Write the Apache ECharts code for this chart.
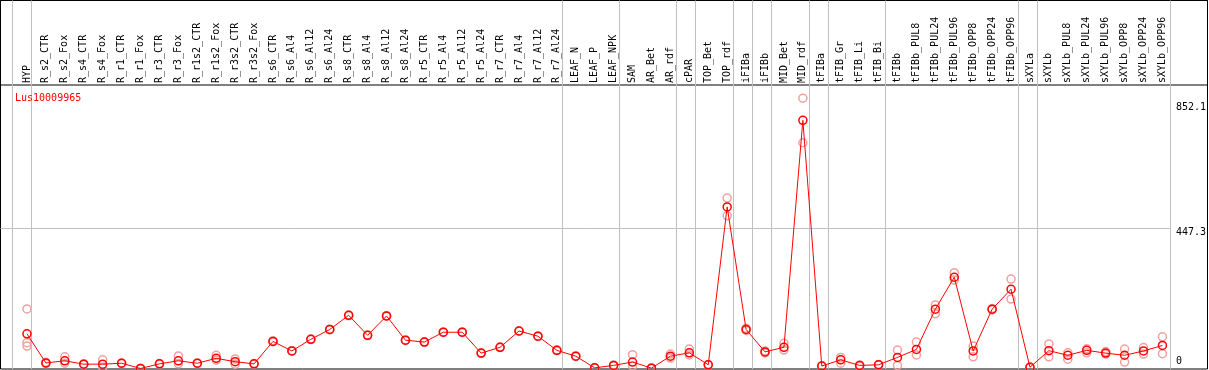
<!DOCTYPE html>
<html>
<head>
<meta charset="utf-8">
<script src="https://cdn.jsdelivr.net/npm/echarts@6/dist/echarts.min.js"></script>
<style>
html,body{margin:0;padding:0;background:#fff;}
#chart{width:1209px;height:370px;}
</style>
</head>
<body>
<div id="chart"></div>
<script>
const geneName = 'Lus10009965';
const categories = ['HYP','R_s2_CTR','R_s2_Fox','R_s4_CTR','R_s4_Fox','R_r1_CTR','R_r1_Fox','R_r3_CTR','R_r3_Fox',
  'R_r1s2_CTR','R_r1s2_Fox','R_r3s2_CTR','R_r3s2_Fox','R_s6_CTR','R_s6_Al4','R_s6_Al12','R_s6_Al24',
  'R_s8_CTR','R_s8_Al4','R_s8_Al12','R_s8_Al24','R_r5_CTR','R_r5_Al4','R_r5_Al12','R_r5_Al24',
  'R_r7_CTR','R_r7_Al4','R_r7_Al12','R_r7_Al24','LEAF_N','LEAF_P','LEAF_NPK','SAM','AR_Bet','AR_rdf',
  'cPAR','TOP_Bet','TOP_rdf','iFIBa','iFIBb','MID_Bet','MID_rdf','tFIBa','tFIB_Gr','tFIB_Li','tFIB_Bi',
  'tFIBb','tFIBb_PUL8','tFIBb_PUL24','tFIBb_PUL96','tFIBb_OPP8','tFIBb_OPP24','tFIBb_OPP96',
  'sXYLa','sXYLb','sXYLb_PUL8','sXYLb_PUL24','sXYLb_PUL96','sXYLb_OPP8','sXYLb_OPP24','sXYLb_OPP96'];
const meanValues = [103,8,15,4,4,7,-10,5,15,7,23,12,5,78,47,85,117,163,98,161,82,76,108,108,40,
  59,112,95,49,30,-8,0,11,-9,30,41,2,516,117,44,59,798,-2,18,0,2,26,52,183,287,47,183,248,
  -6,48,33,49,40,33,47,65];
const rep1 = [184,6,28,3,18,6,-9,4,31,6,33,21,4,77,46,84,116,162,97,160,81,75,107,107,39,
  58,111,94,48,29,-9,-1,35,-10,37,53,1,545,114,41,72,870,-3,26,-1,1,50,76,197,302,63,181,281,
  -7,70,41,54,45,53,58,93];
const rep2 = [74,10,7,5,-6,8,-11,6,5,8,17,4,6,80,48,86,118,164,99,162,83,77,109,109,41,
  60,113,96,50,31,-7,1,-2,-8,24,34,3,487,121,47,50,725,-1,7,1,3,0,34,168,278,28,185,216,
  -5,28,20,41,37,11,37,38];
const rep3 = [63].concat(new Array(60).fill(null));
const yTickValues = [0, 447.3, 852.1];
const yGridValue = 447.3;
// index (1-based) of last category in each sample group
const groupEnds = [0,1,29,32,35,36,38,39,40,42,43,46,53,54,61];

// ---- layout ----
const plotLeft = 17.5, plotRight = 1175.4, plotTop = 85, plotBottom = 369;
const zeroPx = 365.4, pxPerUnit = 0.3071;
const band = (plotRight - plotLeft) / categories.length;
const sepOffset = 4 / band;
const frameL = 0.5, frameT = 0.5, frameR = 1207.5, frameB = 369;
const vx = px => (px - plotLeft) / band + 0.5;
const vy = px => (zeroPx - px) / pxPerUnit;

const font = 'DejaVu Sans Mono';
const chart = echarts.init(document.getElementById('chart'), null, {renderer:'canvas'});

function repSeries(arr){
  return {
    type:'line', xAxisIndex:1, yAxisIndex:1, data: arr, z: 2,
    lineStyle:{width:0, opacity:0}, symbol:'circle', symbolSize:8, showAllSymbol:true,
    itemStyle:{color:'rgba(255,255,255,0)', borderColor:'#f2a0a0', borderWidth:1.5},
    emphasis:{disabled:true}, silent:true, connectNulls:false
  };
}

const option = {
  animation:false,
  title:{text:geneName, left:10, top:88, textStyle:{color:'#ff0000', fontSize:10, fontWeight:'normal', fontFamily:font}},
  grid:[
    {left:frameL, top:frameT, width:frameR-frameL, height:frameB-frameT, show:true, borderColor:'#000', borderWidth:1, backgroundColor:'transparent'},
    {left:plotLeft, top:plotTop, width:plotRight-plotLeft, height:plotBottom-plotTop, show:false},
    {left:frameL, top:frameT, width:frameR-frameL, height:plotTop-frameT, show:true, borderColor:'#000', borderWidth:1, backgroundColor:'transparent'}
  ],
  xAxis:[
    {type:'value', gridIndex:0, min:vx(frameL), max:vx(frameR), show:false},
    {type:'category', gridIndex:1, data:categories, position:'top', boundaryGap:true,
      axisLine:{show:false}, axisTick:{show:false}, splitLine:{show:false},
      axisLabel:{interval:0, rotate:90, margin:2, fontSize:10, fontFamily:font, color:'#000', padding:[0,0,6,0]}},
    {type:'value', gridIndex:2, min:0, max:1, show:false}
  ],
  yAxis:[
    {type:'value', gridIndex:0, min:vy(frameB), max:vy(frameT), show:false},
    {type:'value', gridIndex:1, position:'right', min:vy(plotBottom), max:vy(plotTop),
      axisLine:{show:false}, axisTick:{show:false}, splitLine:{show:false},
      axisLabel:{customValues:yTickValues, margin:4, fontSize:10, fontFamily:font, color:'#000',
        verticalAlign:'middle',
        formatter: v => v === 0 ? '{z|0}' : '{t|' + v + '}',
        rich:{t:{padding:[8,0,0,0], fontSize:10, fontFamily:font, color:'#000'}, z:{padding:[0,0,7,0], fontSize:10, fontFamily:font, color:'#000'}}}},
    {type:'value', gridIndex:2, min:0, max:1, show:false}
  ],
  series:[
    {type:'line', xAxisIndex:0, yAxisIndex:0, data:[], silent:true, z:1,
      markLine:{silent:true, symbol:['none','none'], label:{show:false},
        lineStyle:{color:'#c0c0c0', width:1, type:'solid'},
        data: groupEnds.map(g => ({xAxis: g + sepOffset})).concat([
          [{coord:[vx(frameL), yGridValue]}, {coord:[groupEnds[groupEnds.length-1] + sepOffset, yGridValue]}]
        ])}},
    repSeries(rep1), repSeries(rep2), repSeries(rep3),
    {type:'line', xAxisIndex:1, yAxisIndex:1, data:meanValues, z:5,
      lineStyle:{color:'#ff0000', width:1}, symbol:'circle', symbolSize:8, showAllSymbol:true,
      itemStyle:{color:'rgba(255,255,255,0)', borderColor:'#ff0000', borderWidth:1.5},
      emphasis:{disabled:true}, silent:true}
  ]
};
chart.setOption(option);
</script>
</body>
</html>
